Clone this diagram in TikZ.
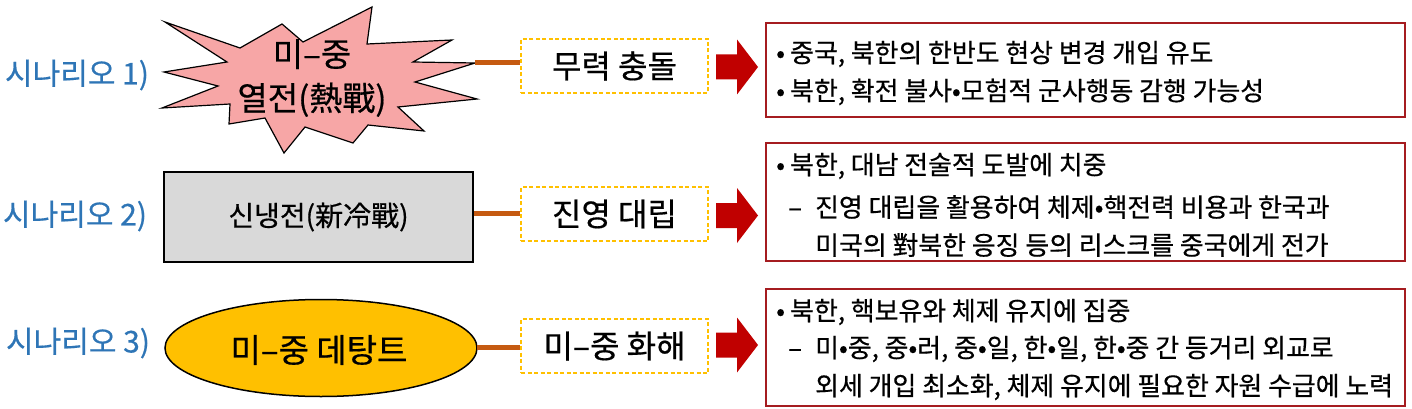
\documentclass[tikz,border=0pt]{standalone}
\usepackage{fontspec}
\setmainfont[FakeBold=0.5]{Noto Sans CJK KR}
\definecolor{scblue}{HTML}{2E75B6}
\definecolor{starpink}{HTML}{F7A6A6}
\definecolor{grayfill}{HTML}{D9D9D9}
\definecolor{goldc}{HTML}{FFC000}
\definecolor{connc}{HTML}{C55A11}
\definecolor{arrowred}{HTML}{C00000}
\definecolor{boxred}{HTML}{A51C20}
\newcommand{\mybul}{\makebox[14pt][l]{•}}
\newcommand{\mydash}{\makebox[27pt][l]{–}}
\begin{document}
\begin{tikzpicture}[x=1pt,y=-1pt,
  scen/.style={text=scblue, font=\fontsize{30}{34}\selectfont, inner sep=0},
  connline/.style={draw=connc, line width=5pt},
  dbox/.style={draw=goldc, dash pattern=on 4pt off 2.5pt, line width=1.6pt,
    minimum width=187pt, minimum height=54pt, inner sep=0,
    font=\fontsize{32}{34}\selectfont, fill=white},
  tbox/.style={draw=boxred, line width=2pt, inner sep=0, minimum width=639pt},
  bodyline/.style={anchor=west, inner sep=0, font=\fontsize{25.9}{28}\selectfont},
  redarrow/.pic={\fill[arrowred] (-21,-12.5) -- (0,-12.5) -- (0,-27.5) -- (21,0)
      -- (0,27.5) -- (0,12.5) -- (-21,12.5) -- cycle;}
]
\useasboundingbox[fill=white] (0,0) rectangle (1412,409);

% scenario labels
\node[scen] (s1) at (77,75) {시나리오 1)};
\node[scen] (s2) at (75,216) {시나리오 2)};
\node[scen] (s3) at (78,343) {시나리오 3)};

% row 1: starburst
\draw[fill=starpink, draw=black, line width=1.2pt, line join=miter]
  (165,22) -- (240,48) -- (282,24) -- (303,42) -- (372,7) -- (367,44)
  -- (452,40) -- (413,62) -- (475,63) -- (415,82) -- (477,99) -- (398,107)
  -- (424,131) -- (368,125) -- (353,143) -- (305,127) -- (284,153) -- (265,118)
  -- (229,124) -- (230,104) -- (162,108) -- (218,86) -- (164,72) -- (227,62) -- cycle;
\node[font=\fontsize{33}{44}\selectfont, align=center, inner sep=0] (star1) at (312,78) {미–중\\열전(熱戰)};
\coordinate (star1e) at (475,63);

% row 2: grey box
\node[draw=black, line width=2pt, fill=grayfill, minimum width=309pt, minimum height=90pt, inner sep=0,
  font=\fontsize{28}{30}\selectfont] (cold) at (318.5,217) {\raisebox{-1pt}{신냉전(新冷戰)}};

% row 3: ellipse
\draw[fill=goldc, draw=black, line width=1.5pt] (321,348) ellipse [x radius=156, y radius=48.5];
\node[font=\fontsize{33}{34}\selectfont, inner sep=0] (det) at (319,350) {미–중 데탕트};
\coordinate (dete) at (477,347);

% dashed boxes
\node[dbox] (d1) at (614.5,66) {무력 충돌};
\node[dbox] (d2) at (614.5,214) {진영 대립};
\node[dbox] (d3) at (614.5,346) {미–중 화해};

% connectors
\draw[connline] (star1e) -- (star1e -| d1.west);
\draw[connline] (cold.east |- 0,213) -- (d2.west |- 0,213);
\draw[connline] (dete) -- (dete -| d3.west);

% red block arrows
\pic at (737,67) {redarrow};
\pic at (737,215.5) {redarrow};
\pic at (737,345) {redarrow};

% text boxes
\node[tbox, minimum height=94pt] (b1) at (1085.5,70) {};
\node[tbox, minimum height=118pt] (b2) at (1085.5,202) {};
\node[tbox, minimum height=117pt] (b3) at (1085.5,347.5) {};

\node[bodyline] (b1a) at (776,54) {\mybul 중국, 북한의 한반도 현상 변경 개입 유도};
\node[bodyline] (b1b) at (776,92) {\mybul 북한, 확전 불사•모험적 군사행동 감행 가능성};

\node[bodyline] (b2a) at (776,166) {\mybul 북한, 대남 전술적 도발에 치중};
\node[bodyline] (b2b) at (788,207) {\mydash 진영 대립을 활용하여 체제•핵전력 비용과 한국과};
\node[bodyline] (b2c) at (815,245) {미국의 對북한 응징 등의 리스크를 중국에게 전가};

\node[bodyline] (b3a) at (776,312) {\mybul 북한, 핵보유와 체제 유지에 집중};
\node[bodyline] (b3b) at (788,349) {\mydash 미•중, 중•러, 중•일, 한•일, 한•중 간 등거리 외교로};
\node[bodyline] (b3c) at (815,387) {외세 개입 최소화, 체제 유지에 필요한 자원 수급에 노력};
\end{tikzpicture}
\end{document}
